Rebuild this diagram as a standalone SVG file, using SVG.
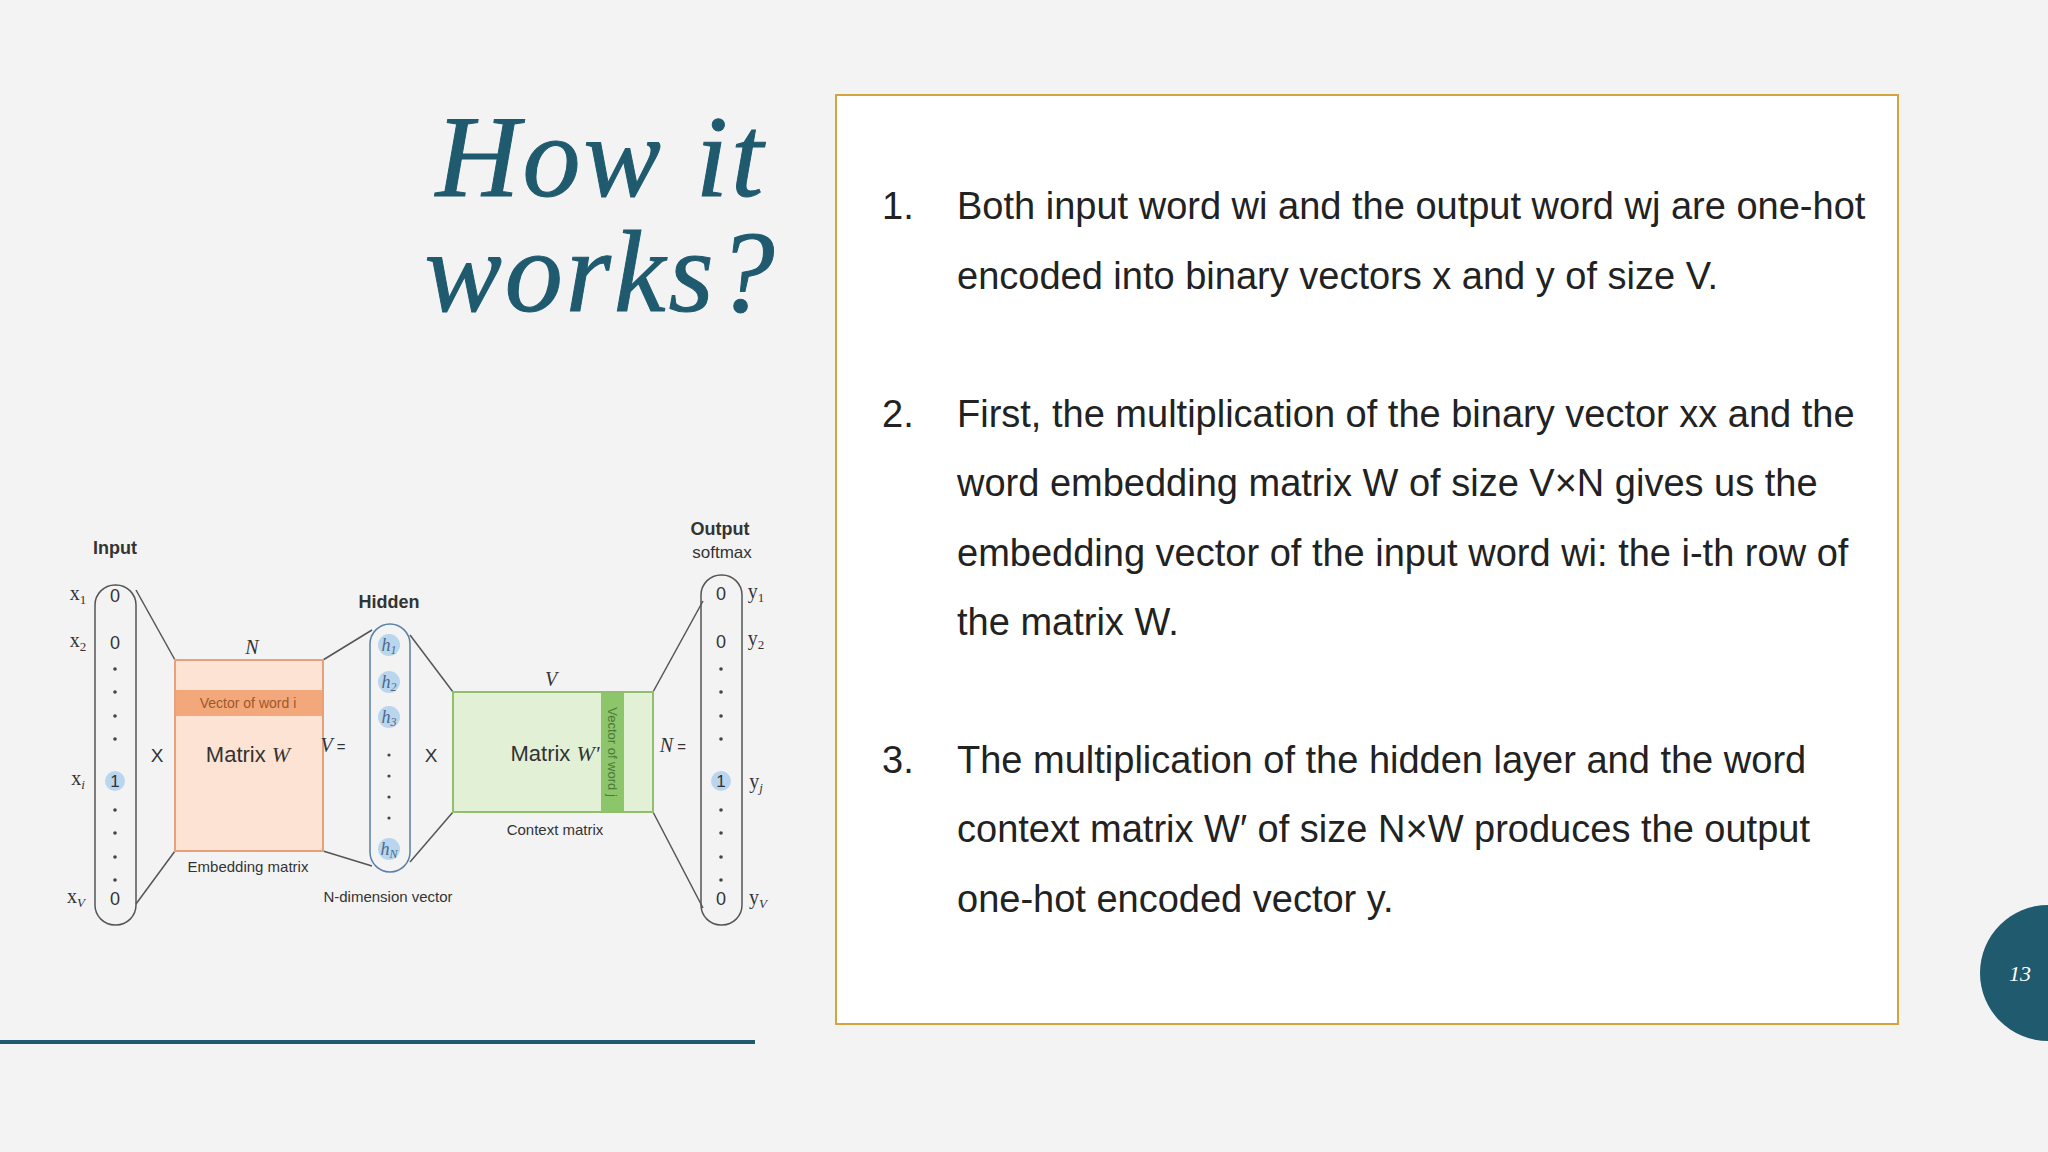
<svg xmlns="http://www.w3.org/2000/svg" width="2048" height="1152" viewBox="0 0 2048 1152">
<style>
.s{font-family:"Liberation Sans",Arial,sans-serif;fill:#333}
.m{font-family:"Liberation Serif","Times New Roman",serif;fill:#333}
.b{font-family:"Liberation Sans",Arial,sans-serif;fill:#222;font-size:38px}
.ln{stroke:#555;stroke-width:1.5;fill:none}
.dot{fill:#444}
.hc{fill:#b9d6ee}
</style>
<rect width="2048" height="1152" fill="#f3f3f4"/>
<g id="title" font-family="Liberation Serif,serif" font-style="italic" font-size="116" fill="#1f5a6e" text-anchor="middle" letter-spacing="3" stroke="#1f5a6e" stroke-width="1">
<text x="601" y="196">How it</text>
<text x="601" y="311">works?</text>
</g>
<line x1="0" y1="1042" x2="755" y2="1042" stroke="#1f5a6e" stroke-width="4"/>
<g id="textbox">
<rect x="836" y="95" width="1062" height="929" fill="#fff" stroke="#d4a53c" stroke-width="2"/>
<text class="b" x="882" y="219">1.</text>
<text class="b" x="957" y="219">Both input word wi and the output word wj are one-hot</text>
<text class="b" x="957" y="289">encoded into binary vectors x and y of size V.</text>
<text class="b" x="882" y="427">2.</text>
<text class="b" x="957" y="427">First, the multiplication of the binary vector xx and the</text>
<text class="b" x="957" y="496">word embedding matrix W of size V×N gives us the</text>
<text class="b" x="957" y="566">embedding vector of the input word wi: the i-th row of</text>
<text class="b" x="957" y="635">the matrix W.</text>
<text class="b" x="882" y="773">3.</text>
<text class="b" x="957" y="773">The multiplication of the hidden layer and the word</text>
<text class="b" x="957" y="842">context matrix W′ of size N×W produces the output</text>
<text class="b" x="957" y="912">one-hot encoded vector y.</text>
</g>
<g id="page">
<circle cx="2048" cy="973" r="68" fill="#1f5a6e"/>
<text x="2020" y="981" font-family="Liberation Serif,serif" font-style="italic" font-size="22" fill="#fff" text-anchor="middle">13</text>
</g>
<g id="connectors" class="ln">
<line x1="136" y1="590" x2="175" y2="660"/>
<line x1="136" y1="904" x2="175" y2="851"/>
<line x1="323" y1="660" x2="372" y2="630"/>
<line x1="323" y1="851" x2="372" y2="866"/>
<line x1="410" y1="635" x2="453" y2="692"/>
<line x1="410" y1="862" x2="453" y2="812"/>
<line x1="653" y1="692" x2="703" y2="601"/>
<line x1="653" y1="812" x2="703" y2="908"/>
</g>
<g id="input">
<text class="s" x="115" y="554" font-size="18" font-weight="bold" text-anchor="middle">Input</text>
<rect x="95" y="585" width="41" height="340" rx="20" fill="none" stroke="#555" stroke-width="1.5"/>
<g class="s" font-size="18" text-anchor="middle">
<text x="115" y="602">0</text><text x="115" y="649">0</text><text x="115" y="905">0</text>
</g>
<circle class="hc" cx="115" cy="781" r="10"/>
<text class="s" x="115" y="787" font-size="17" text-anchor="middle">1</text>
<g class="dot"><circle cx="115" cy="669" r="1.8"/><circle cx="115" cy="692" r="1.8"/><circle cx="115" cy="716" r="1.8"/><circle cx="115" cy="739" r="1.8"/><circle cx="115" cy="810" r="1.8"/><circle cx="115" cy="833" r="1.8"/><circle cx="115" cy="857" r="1.8"/><circle cx="115" cy="880" r="1.8"/></g>
<g class="m" font-size="20" text-anchor="middle">
<text x="78" y="600">x<tspan font-size="13" dy="4">1</tspan></text>
<text x="78" y="647">x<tspan font-size="13" dy="4">2</tspan></text>
<text x="78" y="785">x<tspan font-size="13" dy="4" font-style="italic">i</tspan></text>
<text x="76" y="903">x<tspan font-size="13" dy="4" font-style="italic">V</tspan></text>
</g>
</g>
<text class="s" x="157" y="762" font-size="19" text-anchor="middle">X</text>
<g id="embedding">
<rect x="175" y="660" width="148" height="191" fill="#fde3d3" stroke="#e8a07a" stroke-width="2"/>
<rect x="176" y="690" width="146" height="26" fill="#f2a87a"/>
<text class="s" x="248" y="708" font-size="14" style="fill:#a0572a" text-anchor="middle">Vector of word i</text>
<text class="m" x="252" y="654" font-size="20" font-style="italic" text-anchor="middle">N</text>
<text class="s" x="248" y="762" font-size="22" text-anchor="middle">Matrix <tspan class="m" font-style="italic">W</tspan></text>
<text class="s" x="248" y="872" font-size="15" text-anchor="middle">Embedding matrix</text>
</g>
<text x="333" y="752" font-size="20" text-anchor="middle"><tspan class="m" font-style="italic">V</tspan><tspan class="s" font-size="15"> =</tspan></text>
<g id="hidden">
<text class="s" x="389" y="608" font-size="18" font-weight="bold" text-anchor="middle">Hidden</text>
<rect x="370" y="624" width="40" height="248" rx="20" fill="none" stroke="#5a7fa8" stroke-width="1.5"/>
<g class="hc"><circle cx="389" cy="645" r="11"/><circle cx="389" cy="682" r="11"/><circle cx="389" cy="717" r="11"/><circle cx="389" cy="849" r="11"/></g>
<g class="m" font-size="18" font-style="italic" text-anchor="middle" style="fill:#4a6a8a">
<text x="389" y="651">h<tspan font-size="12" dy="3">1</tspan></text>
<text x="389" y="688">h<tspan font-size="12" dy="3">2</tspan></text>
<text x="389" y="723">h<tspan font-size="12" dy="3">3</tspan></text>
<text x="389" y="855">h<tspan font-size="12" dy="3">N</tspan></text>
</g>
<g class="dot"><circle cx="389" cy="755" r="1.6"/><circle cx="389" cy="776" r="1.6"/><circle cx="389" cy="797" r="1.6"/><circle cx="389" cy="818" r="1.6"/></g>
<text class="s" x="388" y="902" font-size="15" text-anchor="middle">N-dimension vector</text>
</g>
<text class="s" x="431" y="762" font-size="19" text-anchor="middle">X</text>
<g id="context">
<rect x="453" y="692" width="200" height="120" fill="#e2f0d6" stroke="#8fbf6a" stroke-width="2"/>
<rect x="601" y="693" width="23" height="118" fill="#8dc56a"/>
<text class="s" font-size="13" text-anchor="middle" transform="translate(608,752) rotate(90)" style="fill:#4a7a3a">Vector of word j</text>
<text class="m" x="551" y="686" font-size="20" font-style="italic" text-anchor="middle">V</text>
<text class="s" x="555" y="761" font-size="22" text-anchor="middle">Matrix <tspan class="m" font-style="italic">W'</tspan></text>
<text class="s" x="555" y="835" font-size="15" text-anchor="middle">Context matrix</text>
</g>
<text x="673" y="752" font-size="20" text-anchor="middle"><tspan class="m" font-style="italic">N</tspan><tspan class="s" font-size="15"> =</tspan></text>
<g id="output">
<text class="s" x="720" y="535" font-size="18" font-weight="bold" text-anchor="middle">Output</text>
<text class="s" x="722" y="558" font-size="17" text-anchor="middle">softmax</text>
<rect x="701" y="575" width="41" height="350" rx="20" fill="none" stroke="#555" stroke-width="1.5"/>
<g class="s" font-size="18" text-anchor="middle">
<text x="721" y="600">0</text><text x="721" y="648">0</text><text x="721" y="905">0</text>
</g>
<circle class="hc" cx="721" cy="781" r="10"/>
<text class="s" x="721" y="787" font-size="17" text-anchor="middle">1</text>
<g class="dot"><circle cx="721" cy="669" r="1.8"/><circle cx="721" cy="692" r="1.8"/><circle cx="721" cy="716" r="1.8"/><circle cx="721" cy="739" r="1.8"/><circle cx="721" cy="810" r="1.8"/><circle cx="721" cy="833" r="1.8"/><circle cx="721" cy="857" r="1.8"/><circle cx="721" cy="880" r="1.8"/></g>
<g class="m" font-size="20" text-anchor="middle">
<text x="756" y="598">y<tspan font-size="13" dy="4">1</tspan></text>
<text x="756" y="645">y<tspan font-size="13" dy="4">2</tspan></text>
<text x="756" y="788">y<tspan font-size="13" dy="4" font-style="italic">j</tspan></text>
<text x="758" y="904">y<tspan font-size="13" dy="4" font-style="italic">V</tspan></text>
</g>
</g>
</svg>
